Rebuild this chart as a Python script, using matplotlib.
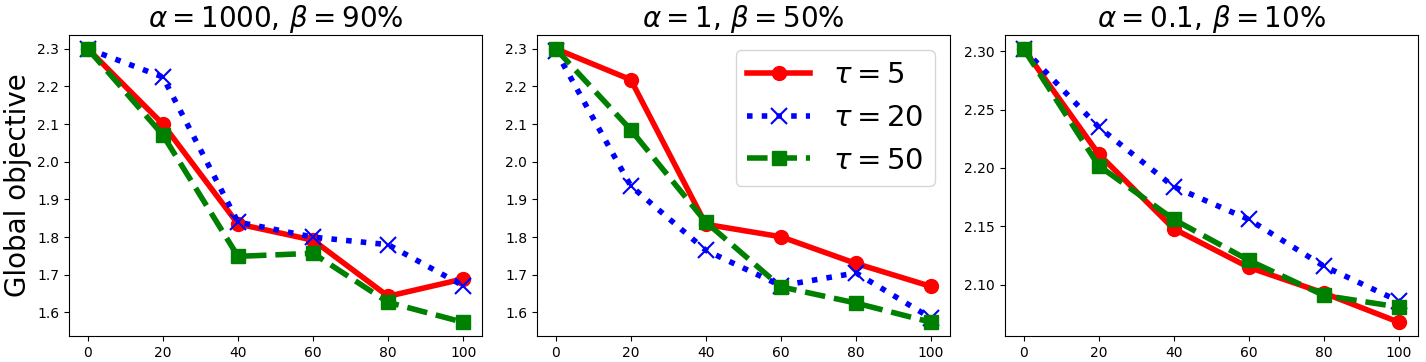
import matplotlib
matplotlib.use('Agg')
import matplotlib.pyplot as plt

rounds = [0, 20, 40, 60, 80, 100]
titles = [r'$\alpha = 1000,\, \beta = 90\%$', r'$\alpha = 1,\, \beta = 50\%$', r'$\alpha = 0.1,\, \beta = 10\%$']
labels = [r'$\tau = 5$', r'$\tau = 20$', r'$\tau = 50$']

# panel 1: alpha=1000, beta=90%
p1_tau5 = [2.30, 2.10, 1.835, 1.792, 1.643, 1.689]
p1_tau20 = [2.30, 2.225, 1.840, 1.800, 1.780, 1.671]
p1_tau50 = [2.30, 2.071, 1.749, 1.757, 1.627, 1.574]
# panel 2: alpha=1, beta=50%
p2_tau5 = [2.30, 2.218, 1.834, 1.801, 1.730, 1.669]
p2_tau20 = [2.295, 1.936, 1.765, 1.671, 1.705, 1.585]
p2_tau50 = [2.30, 2.085, 1.840, 1.668, 1.625, 1.574]
# panel 3: alpha=0.1, beta=10%
p3_tau5 = [2.302, 2.212, 2.148, 2.115, 2.093, 2.068]
p3_tau20 = [2.302, 2.235, 2.184, 2.156, 2.116, 2.086]
p3_tau50 = [2.302, 2.202, 2.156, 2.121, 2.091, 2.081]

panels = [(p1_tau5, p1_tau20, p1_tau50),
          (p2_tau5, p2_tau20, p2_tau50),
          (p3_tau5, p3_tau20, p3_tau50)]

fig, axes = plt.subplots(1, 3, figsize=(14.26, 3.62), dpi=100)
fig.subplots_adjust(left=0.0484, right=0.9942, bottom=0.072, top=0.903, wspace=0.133)

for i, ax in enumerate(axes):
    a, b, c = panels[i]
    ax.plot(rounds, a, 'r-', marker='o', lw=4, ms=10, label=labels[0])
    ax.plot(rounds, b, 'b:', marker='x', lw=4, ms=11, mew=1.5, label=labels[1])
    ax.plot(rounds, c, 'g--', marker='s', lw=4, ms=10, label=labels[2])
    ax.set_title(titles[i], fontsize=20)
    ax.set_xticks(rounds)

axes[0].set_ylabel('Global objective', fontsize=20)
axes[1].legend(fontsize=21, loc='upper right', handlelength=2.15)

plt.savefig('out.png', dpi=100)
